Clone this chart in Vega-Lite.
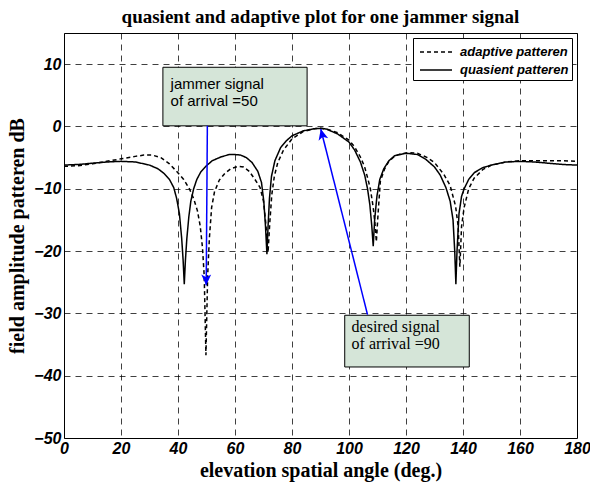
{
  "$schema": "https://vega.github.io/schema/vega-lite/v6.json",
  "width": 513,
  "height": 405,
  "autosize": {"type": "none"},
  "padding": {"left": 64, "top": 33, "right": 13, "bottom": 45},
  "background": "white",
  "title": {"text": "quasient and adaptive plot for one jammer signal", "font": "Liberation Serif", "fontSize": 19, "fontWeight": "bold", "color": "black", "offset": 6},
  "config": {
    "view": {"stroke": "black", "strokeWidth": 1},
    "axis": {
      "labelFont": "Liberation Sans", "labelFontSize": 16, "labelFontWeight": "bold", "labelFontStyle": "italic", "labelColor": "black",
      "titleFont": "Liberation Serif", "titleFontSize": 20, "titleFontWeight": "bold", "titleColor": "black",
      "grid": true, "gridColor": "black", "gridOpacity": 0.75, "gridDash": [6, 5], "gridWidth": 1,
      "ticks": false, "domain": false, "labelPadding": 3, "labelFlush": false
    },
    "legend": {
      "labelFont": "Liberation Sans", "labelFontSize": 13, "labelFontWeight": "bold", "labelFontStyle": "italic", "labelColor": "black",
      "strokeColor": "black", "fillColor": "white", "padding": 3, "rowPadding": -3, "symbolType": "M-1.6,0H1.6", "symbolSize": 400, "symbolStrokeWidth": 1.5, "symbolOffset": 9, "labelOffset": 13
    }
  },
  "layer": [
    {
      "data": {"values": [
        {"series": "quasient patteren", "angle": 0, "db": -6.2},
        {"series": "quasient patteren", "angle": 5, "db": -6.1},
        {"series": "quasient patteren", "angle": 10, "db": -5.9},
        {"series": "quasient patteren", "angle": 15, "db": -5.7},
        {"series": "quasient patteren", "angle": 20, "db": -5.6},
        {"series": "quasient patteren", "angle": 25, "db": -5.7},
        {"series": "quasient patteren", "angle": 30, "db": -6.2},
        {"series": "quasient patteren", "angle": 33, "db": -6.8},
        {"series": "quasient patteren", "angle": 35, "db": -7.5},
        {"series": "quasient patteren", "angle": 37, "db": -8.5},
        {"series": "quasient patteren", "angle": 38.5, "db": -9.8},
        {"series": "quasient patteren", "angle": 39.5, "db": -11.5},
        {"series": "quasient patteren", "angle": 40.5, "db": -14},
        {"series": "quasient patteren", "angle": 41.3, "db": -18},
        {"series": "quasient patteren", "angle": 41.8, "db": -21.5},
        {"series": "quasient patteren", "angle": 42.2, "db": -25.3},
        {"series": "quasient patteren", "angle": 42.6, "db": -21.5},
        {"series": "quasient patteren", "angle": 43.1, "db": -18},
        {"series": "quasient patteren", "angle": 43.8, "db": -14.5},
        {"series": "quasient patteren", "angle": 44.5, "db": -12},
        {"series": "quasient patteren", "angle": 45.5, "db": -10},
        {"series": "quasient patteren", "angle": 46.6, "db": -8.5},
        {"series": "quasient patteren", "angle": 48, "db": -7.3},
        {"series": "quasient patteren", "angle": 50, "db": -6.3},
        {"series": "quasient patteren", "angle": 52, "db": -5.5},
        {"series": "quasient patteren", "angle": 55, "db": -4.9},
        {"series": "quasient patteren", "angle": 58, "db": -4.5},
        {"series": "quasient patteren", "angle": 60, "db": -4.5},
        {"series": "quasient patteren", "angle": 62, "db": -4.6},
        {"series": "quasient patteren", "angle": 64, "db": -5},
        {"series": "quasient patteren", "angle": 66, "db": -5.8},
        {"series": "quasient patteren", "angle": 68, "db": -7.2},
        {"series": "quasient patteren", "angle": 69.3, "db": -9},
        {"series": "quasient patteren", "angle": 70.1, "db": -12},
        {"series": "quasient patteren", "angle": 70.7, "db": -16},
        {"series": "quasient patteren", "angle": 71.2, "db": -20.5},
        {"series": "quasient patteren", "angle": 71.6, "db": -16},
        {"series": "quasient patteren", "angle": 72.1, "db": -11.5},
        {"series": "quasient patteren", "angle": 72.8, "db": -8},
        {"series": "quasient patteren", "angle": 74, "db": -5.5},
        {"series": "quasient patteren", "angle": 76, "db": -3.4},
        {"series": "quasient patteren", "angle": 78, "db": -2.3},
        {"series": "quasient patteren", "angle": 80, "db": -1.5},
        {"series": "quasient patteren", "angle": 84, "db": -0.7},
        {"series": "quasient patteren", "angle": 88, "db": -0.35},
        {"series": "quasient patteren", "angle": 90, "db": -0.3},
        {"series": "quasient patteren", "angle": 92, "db": -0.4},
        {"series": "quasient patteren", "angle": 96, "db": -1.2},
        {"series": "quasient patteren", "angle": 100, "db": -2.5},
        {"series": "quasient patteren", "angle": 102, "db": -3.8},
        {"series": "quasient patteren", "angle": 104, "db": -5.7},
        {"series": "quasient patteren", "angle": 105.5, "db": -7.8},
        {"series": "quasient patteren", "angle": 106.5, "db": -10},
        {"series": "quasient patteren", "angle": 107.3, "db": -12.5},
        {"series": "quasient patteren", "angle": 108, "db": -16},
        {"series": "quasient patteren", "angle": 108.5, "db": -19.2},
        {"series": "quasient patteren", "angle": 109, "db": -15},
        {"series": "quasient patteren", "angle": 109.8, "db": -11.2},
        {"series": "quasient patteren", "angle": 110.8, "db": -8.5},
        {"series": "quasient patteren", "angle": 112.2, "db": -6.8},
        {"series": "quasient patteren", "angle": 114, "db": -5.5},
        {"series": "quasient patteren", "angle": 116, "db": -4.7},
        {"series": "quasient patteren", "angle": 120, "db": -4.3},
        {"series": "quasient patteren", "angle": 124, "db": -4.5},
        {"series": "quasient patteren", "angle": 127, "db": -5.3},
        {"series": "quasient patteren", "angle": 130, "db": -6.5},
        {"series": "quasient patteren", "angle": 132, "db": -7.8},
        {"series": "quasient patteren", "angle": 134, "db": -9.8},
        {"series": "quasient patteren", "angle": 135.5, "db": -12},
        {"series": "quasient patteren", "angle": 136.5, "db": -15},
        {"series": "quasient patteren", "angle": 137.1, "db": -20},
        {"series": "quasient patteren", "angle": 137.5, "db": -25.3},
        {"series": "quasient patteren", "angle": 137.9, "db": -20},
        {"series": "quasient patteren", "angle": 138.6, "db": -14},
        {"series": "quasient patteren", "angle": 139.5, "db": -11.2},
        {"series": "quasient patteren", "angle": 140.4, "db": -10},
        {"series": "quasient patteren", "angle": 142, "db": -8.5},
        {"series": "quasient patteren", "angle": 144, "db": -7.4},
        {"series": "quasient patteren", "angle": 147, "db": -6.6},
        {"series": "quasient patteren", "angle": 150, "db": -6.2},
        {"series": "quasient patteren", "angle": 155, "db": -5.7},
        {"series": "quasient patteren", "angle": 160, "db": -5.6},
        {"series": "quasient patteren", "angle": 165, "db": -5.7},
        {"series": "quasient patteren", "angle": 170, "db": -5.9},
        {"series": "quasient patteren", "angle": 175, "db": -6.1},
        {"series": "quasient patteren", "angle": 180, "db": -6.2},
        {"series": "adaptive patteren", "angle": 0, "db": -6.4},
        {"series": "adaptive patteren", "angle": 5, "db": -6.3},
        {"series": "adaptive patteren", "angle": 10, "db": -6.0},
        {"series": "adaptive patteren", "angle": 15, "db": -5.6},
        {"series": "adaptive patteren", "angle": 20, "db": -5.2},
        {"series": "adaptive patteren", "angle": 25, "db": -4.8},
        {"series": "adaptive patteren", "angle": 28, "db": -4.6},
        {"series": "adaptive patteren", "angle": 31, "db": -4.6},
        {"series": "adaptive patteren", "angle": 34, "db": -5.0},
        {"series": "adaptive patteren", "angle": 37, "db": -6.0},
        {"series": "adaptive patteren", "angle": 39.5, "db": -7.2},
        {"series": "adaptive patteren", "angle": 42, "db": -8.5},
        {"series": "adaptive patteren", "angle": 44, "db": -10},
        {"series": "adaptive patteren", "angle": 45.5, "db": -11.6},
        {"series": "adaptive patteren", "angle": 46.8, "db": -13.5},
        {"series": "adaptive patteren", "angle": 47.8, "db": -16},
        {"series": "adaptive patteren", "angle": 48.6, "db": -19.5},
        {"series": "adaptive patteren", "angle": 49.2, "db": -24},
        {"series": "adaptive patteren", "angle": 49.8, "db": -36.7},
        {"series": "adaptive patteren", "angle": 50.4, "db": -24},
        {"series": "adaptive patteren", "angle": 51, "db": -18},
        {"series": "adaptive patteren", "angle": 51.8, "db": -13},
        {"series": "adaptive patteren", "angle": 52.8, "db": -10.5},
        {"series": "adaptive patteren", "angle": 54.5, "db": -8.6},
        {"series": "adaptive patteren", "angle": 56.5, "db": -7.5},
        {"series": "adaptive patteren", "angle": 58.5, "db": -6.8},
        {"series": "adaptive patteren", "angle": 61, "db": -6.4},
        {"series": "adaptive patteren", "angle": 63, "db": -6.5},
        {"series": "adaptive patteren", "angle": 65, "db": -7.2},
        {"series": "adaptive patteren", "angle": 67, "db": -8.5},
        {"series": "adaptive patteren", "angle": 68.8, "db": -9.8},
        {"series": "adaptive patteren", "angle": 70, "db": -12},
        {"series": "adaptive patteren", "angle": 70.8, "db": -15.5},
        {"series": "adaptive patteren", "angle": 71.6, "db": -20.2},
        {"series": "adaptive patteren", "angle": 72.2, "db": -15.5},
        {"series": "adaptive patteren", "angle": 72.9, "db": -11},
        {"series": "adaptive patteren", "angle": 73.8, "db": -8},
        {"series": "adaptive patteren", "angle": 75, "db": -5.8},
        {"series": "adaptive patteren", "angle": 77, "db": -3.8},
        {"series": "adaptive patteren", "angle": 80, "db": -2.0},
        {"series": "adaptive patteren", "angle": 84, "db": -0.8},
        {"series": "adaptive patteren", "angle": 88, "db": -0.35},
        {"series": "adaptive patteren", "angle": 90, "db": -0.3},
        {"series": "adaptive patteren", "angle": 92, "db": -0.4},
        {"series": "adaptive patteren", "angle": 96, "db": -1.0},
        {"series": "adaptive patteren", "angle": 100, "db": -2.2},
        {"series": "adaptive patteren", "angle": 102, "db": -3.3},
        {"series": "adaptive patteren", "angle": 104, "db": -4.9},
        {"series": "adaptive patteren", "angle": 105.5, "db": -6.5},
        {"series": "adaptive patteren", "angle": 106.5, "db": -8.2},
        {"series": "adaptive patteren", "angle": 107.5, "db": -10},
        {"series": "adaptive patteren", "angle": 108.5, "db": -13},
        {"series": "adaptive patteren", "angle": 109.1, "db": -15.5},
        {"series": "adaptive patteren", "angle": 109.6, "db": -18.5},
        {"series": "adaptive patteren", "angle": 110.2, "db": -14},
        {"series": "adaptive patteren", "angle": 111, "db": -8.8},
        {"series": "adaptive patteren", "angle": 112.5, "db": -6.8},
        {"series": "adaptive patteren", "angle": 114, "db": -5.6},
        {"series": "adaptive patteren", "angle": 116, "db": -4.8},
        {"series": "adaptive patteren", "angle": 118, "db": -4.4},
        {"series": "adaptive patteren", "angle": 121, "db": -4.2},
        {"series": "adaptive patteren", "angle": 124, "db": -4.3},
        {"series": "adaptive patteren", "angle": 127.5, "db": -5.0},
        {"series": "adaptive patteren", "angle": 130, "db": -5.8},
        {"series": "adaptive patteren", "angle": 133.3, "db": -7.7},
        {"series": "adaptive patteren", "angle": 135.5, "db": -9.5},
        {"series": "adaptive patteren", "angle": 137.4, "db": -12.8},
        {"series": "adaptive patteren", "angle": 138.3, "db": -16},
        {"series": "adaptive patteren", "angle": 138.9, "db": -22.5},
        {"series": "adaptive patteren", "angle": 139.5, "db": -16},
        {"series": "adaptive patteren", "angle": 140.4, "db": -13},
        {"series": "adaptive patteren", "angle": 142, "db": -10},
        {"series": "adaptive patteren", "angle": 143.9, "db": -8.3},
        {"series": "adaptive patteren", "angle": 147, "db": -6.9},
        {"series": "adaptive patteren", "angle": 150, "db": -6.2},
        {"series": "adaptive patteren", "angle": 155, "db": -5.7},
        {"series": "adaptive patteren", "angle": 160, "db": -5.5},
        {"series": "adaptive patteren", "angle": 165, "db": -5.5},
        {"series": "adaptive patteren", "angle": 170, "db": -5.5},
        {"series": "adaptive patteren", "angle": 175, "db": -5.5},
        {"series": "adaptive patteren", "angle": 180, "db": -5.6}
      ]},
      "mark": {"type": "line", "strokeWidth": 1.5, "clip": true},
      "encoding": {
        "x": {"field": "angle", "type": "quantitative", "scale": {"domain": [0, 180], "nice": false}, "axis": {"values": [0, 20, 40, 60, 80, 100, 120, 140, 160, 180], "title": "elevation spatial angle (deg.)", "titlePadding": 4, "labelPadding": 2}},
        "y": {"field": "db", "type": "quantitative", "scale": {"domain": [-50, 15], "nice": false}, "axis": {"values": [-50, -40, -30, -20, -10, 0, 10], "title": "field amplitude patteren dB", "titlePadding": 6}},
        "color": {"field": "series", "type": "nominal", "scale": {"domain": ["adaptive patteren", "quasient patteren"], "range": ["black", "black"]}, "legend": {"title": null, "orient": "top-right", "offset": 5}},
        "strokeDash": {"field": "series", "type": "nominal", "scale": {"domain": ["adaptive patteren", "quasient patteren"], "range": [[4, 3], [1, 0]]}, "legend": {"title": null, "orient": "top-right", "offset": 5}}
      }
    },
    {
      "data": {"values": [
        {"x1": 34.7, "x2": 85.3, "y1": 9.5, "y2": 0.1},
        {"x1": 98.5, "x2": 142.2, "y1": -30.3, "y2": -38.6}
      ]},
      "mark": {"type": "rect", "fill": "#d5e5d8", "stroke": "black", "strokeWidth": 1},
      "encoding": {
        "x": {"field": "x1", "type": "quantitative"},
        "x2": {"field": "x2"},
        "y": {"field": "y1", "type": "quantitative"},
        "y2": {"field": "y2"}
      }
    },
    {
      "data": {"values": [
        {"tx": 37.4, "ty": 6.0, "label": "jammer signal\nof arrival =50"}
      ]},
      "mark": {"type": "text", "align": "left", "baseline": "alphabetic", "font": "Liberation Sans", "fontSize": 15, "lineHeight": 17, "lineBreak": "\n", "color": "black"},
      "encoding": {
        "x": {"field": "tx", "type": "quantitative"},
        "y": {"field": "ty", "type": "quantitative"},
        "text": {"field": "label"}
      }
    },
    {
      "data": {"values": [
        {"tx": 100.9, "ty": -33.0, "label": "desired signal\nof arrival =90"}
      ]},
      "mark": {"type": "text", "align": "left", "baseline": "alphabetic", "font": "Liberation Serif", "fontSize": 16, "lineHeight": 17, "lineBreak": "\n", "color": "black"},
      "encoding": {
        "x": {"field": "tx", "type": "quantitative"},
        "y": {"field": "ty", "type": "quantitative"},
        "text": {"field": "label"}
      }
    },
    {
      "data": {"values": [
        {"ax": 50.3, "ay": 0.1, "bx": 49.9, "by": -25.5, "ang": 180},
        {"ax": 106.5, "ay": -30.2, "bx": 90.1, "by": -0.4, "ang": -14}
      ]},
      "layer": [
        {
          "mark": {"type": "rule", "color": "#0000ff", "strokeWidth": 1.5},
          "encoding": {
            "x": {"field": "ax", "type": "quantitative"},
            "y": {"field": "ay", "type": "quantitative"},
            "x2": {"field": "bx"},
            "y2": {"field": "by"}
          }
        },
        {
          "mark": {"type": "point", "shape": "M0,0L-0.55,1.2L0,0.9L0.55,1.2Z", "filled": true, "color": "#0000ff", "size": 324, "opacity": 1},
          "encoding": {
            "x": {"field": "bx", "type": "quantitative"},
            "y": {"field": "by", "type": "quantitative"},
            "angle": {"field": "ang", "type": "quantitative", "scale": null}
          }
        }
      ]
    }
  ]
}
